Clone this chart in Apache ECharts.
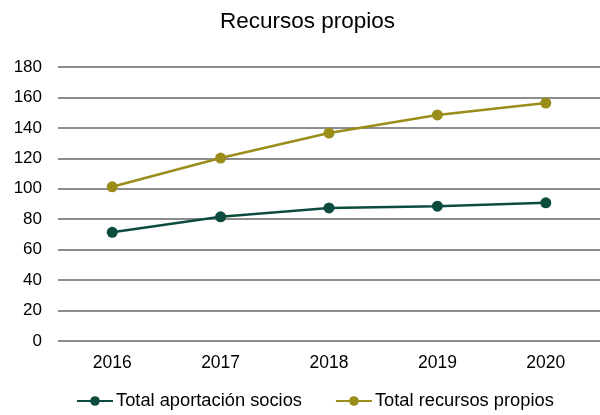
<!DOCTYPE html>
<html>
<head>
<meta charset="utf-8">
<script src="https://cdn.jsdelivr.net/npm/echarts@6/dist/echarts.min.js"></script>
<style>
  html, body { margin: 0; padding: 0; background: #fff; }
  #chart { width: 600px; height: 415px; }
</style>
</head>
<body>
<div id="chart"></div>
<script>
var years = ['2016', '2017', '2018', '2019', '2020'];
var aportacionSocios = [71.4, 81.6, 87.4, 88.6, 90.8];
var recursosPropios = [101.3, 120.2, 136.6, 148.5, 156.3];
var yTicks = { min: 0, max: 180, interval: 20 };

var myChart = echarts.init(document.getElementById('chart'), null, { renderer: 'canvas' });

var font = '"Liberation Sans", Arial, sans-serif';

var option = {
    animation: false,
    title: {
        text: 'Recursos propios',
        left: 215,
        top: 5,
        textStyle: { fontFamily: font, fontSize: 22.5, fontWeight: 'normal', color: '#000' }
    },
    legend: {
        bottom: 0,
        left: 71,
        itemWidth: 36,
        itemHeight: 12,
        itemGap: 33,
        textStyle: { fontFamily: font, fontSize: 18.3, color: '#000', padding: [0, 0, 0, -2] },
        data: ['Total aportación socios', 'Total recursos propios']
    },
    grid: { left: 58, right: -12, top: 67, bottom: 74 },
    xAxis: {
        type: 'category',
        data: years,
        boundaryGap: true,
        axisLine: { show: false },
        axisTick: { show: false },
        axisLabel: { fontFamily: font, fontSize: 17.5, color: '#000', margin: 13 }
    },
    yAxis: {
        type: 'value',
        min: yTicks.min,
        max: yTicks.max,
        interval: yTicks.interval,
        axisLine: { show: false },
        axisTick: { show: false },
        axisLabel: { fontFamily: font, fontSize: 17, color: '#000', margin: 16 },
        splitLine: { lineStyle: { color: '#8c8c8c', width: 2 } }
    },
    series: [
        {
            name: 'Total aportación socios',
            type: 'line',
            data: aportacionSocios,
            symbol: 'circle',
            symbolSize: 11,
            color: '#0c4c3f',
            lineStyle: { width: 2.5 }
        },
        {
            name: 'Total recursos propios',
            type: 'line',
            data: recursosPropios,
            symbol: 'circle',
            symbolSize: 11,
            color: '#9a8d1a',
            lineStyle: { width: 2.5 }
        }
    ]
};

myChart.setOption(option);
</script>
</body>
</html>
